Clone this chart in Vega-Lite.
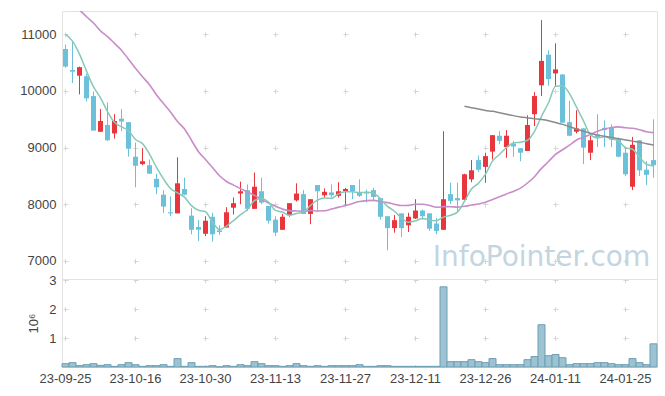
{
  "$schema": "https://vega.github.io/schema/vega-lite/v6.json",
  "padding": {"left": 19, "top": 10, "right": 9, "bottom": 5},
  "config": {
    "font": "Liberation Sans",
    "view": {"stroke": "#e2e2e2"},
    "axis": {"labelFont": "Liberation Sans", "labelFontSize": 13, "labelColor": "#444444", "ticks": false, "domain": false, "gridColor": "#d6d6d6", "titleFont": "Liberation Sans", "titleFontSize": 13, "titleFontWeight": "normal", "titleColor": "#444444"}
  },
  "data": {"values": [
    {"d":"23-09-25","o":10740,"h":10820,"l":10410,"c":10430,"v":115000,"m5":11000,"m20":11650},
    {"d":"23-09-26","o":10370,"h":10880,"l":10140,"c":10340,"v":150000,"m5":10880,"m20":11530},
    {"d":"23-09-27","o":10270,"h":10430,"l":9940,"c":10420,"v":46000,"m5":10650,"m20":11430},
    {"d":"23-10-04","o":10260,"h":10300,"l":9820,"c":9870,"v":80000,"m5":10350,"m20":11310},
    {"d":"23-10-05","o":9910,"h":9990,"l":9300,"c":9300,"v":115000,"m5":10071,"m20":11200},
    {"d":"23-10-06","o":9280,"h":9680,"l":9280,"c":9470,"v":57000,"m5":9879,"m20":11060},
    {"d":"23-10-10","o":9400,"h":9800,"l":9120,"c":9130,"v":80000,"m5":9636,"m20":10960},
    {"d":"23-10-11","o":9250,"h":9590,"l":9160,"c":9470,"v":23000,"m5":9446,"m20":10840},
    {"d":"23-10-12","o":9510,"h":9680,"l":9290,"c":9460,"v":80000,"m5":9365,"m20":10720},
    {"d":"23-10-13","o":9450,"h":9450,"l":8840,"c":8980,"v":150000,"m5":9301,"m20":10560},
    {"d":"23-10-16","o":8840,"h":9090,"l":8300,"c":8680,"v":80000,"m5":9143,"m20":10400},
    {"d":"23-10-17","o":8710,"h":8990,"l":8690,"c":8760,"v":23000,"m5":9071,"m20":10250},
    {"d":"23-10-18","o":8690,"h":8790,"l":8540,"c":8540,"v":46000,"m5":8885,"m20":10110},
    {"d":"23-10-19","o":8450,"h":8540,"l":8180,"c":8300,"v":46000,"m5":8652,"m20":9930},
    {"d":"23-10-20","o":8170,"h":8250,"l":7850,"c":7960,"v":80000,"m5":8448,"m20":9780},
    {"d":"23-10-23","o":7860,"h":8140,"l":7790,"c":7840,"v":23000,"m5":8279,"m20":9630},
    {"d":"23-10-24","o":7840,"h":8830,"l":7840,"c":8370,"v":290000,"m5":8201,"m20":9460},
    {"d":"23-10-25","o":8270,"h":8470,"l":8160,"c":8170,"v":23000,"m5":8126,"m20":9330},
    {"d":"23-10-26","o":7800,"h":7930,"l":7470,"c":7550,"v":150000,"m5":7977,"m20":9130},
    {"d":"23-10-27","o":7600,"h":7720,"l":7350,"c":7550,"v":23000,"m5":7895,"m20":8929},
    {"d":"23-10-30","o":7480,"h":7790,"l":7440,"c":7710,"v":23000,"m5":7868,"m20":8792},
    {"d":"23-10-31","o":7780,"h":7850,"l":7340,"c":7470,"v":46000,"m5":7687,"m20":8649},
    {"d":"23-11-01","o":7540,"h":7630,"l":7460,"c":7510,"v":5000,"m5":7555,"m20":8503},
    {"d":"23-11-02","o":7590,"h":7950,"l":7590,"c":7860,"v":46000,"m5":7617,"m20":8403},
    {"d":"23-11-03","o":7940,"h":8120,"l":7820,"c":8020,"v":23000,"m5":7712,"m20":8339},
    {"d":"23-11-06","o":8190,"h":8400,"l":8000,"c":8230,"v":80000,"m5":7817,"m20":8277},
    {"d":"23-11-07","o":8250,"h":8350,"l":7880,"c":7920,"v":46000,"m5":7907,"m20":8217},
    {"d":"23-11-08","o":7920,"h":8560,"l":7920,"c":8310,"v":184000,"m5":8067,"m20":8158},
    {"d":"23-11-09","o":8230,"h":8470,"l":8000,"c":8030,"v":115000,"m5":8102,"m20":8087},
    {"d":"23-11-10","o":7970,"h":7970,"l":7660,"c":7710,"v":46000,"m5":8038,"m20":8023},
    {"d":"23-11-13","o":7730,"h":7790,"l":7440,"c":7500,"v":46000,"m5":7892,"m20":7964},
    {"d":"23-11-14","o":7550,"h":7830,"l":7550,"c":7780,"v":23000,"m5":7863,"m20":7915},
    {"d":"23-11-15","o":7810,"h":8020,"l":7780,"c":8020,"v":46000,"m5":7806,"m20":7889},
    {"d":"23-11-16","o":8070,"h":8370,"l":8050,"c":8190,"v":115000,"m5":7838,"m20":7883},
    {"d":"23-11-17","o":8180,"h":8250,"l":7830,"c":7830,"v":46000,"m5":7863,"m20":7877},
    {"d":"23-11-20","o":7830,"h":8090,"l":7650,"c":8090,"v":23000,"m5":7981,"m20":7890},
    {"d":"23-11-21","o":8340,"h":8340,"l":7880,"c":8230,"v":46000,"m5":8073,"m20":7883},
    {"d":"23-11-22","o":8160,"h":8280,"l":8120,"c":8220,"v":23000,"m5":8112,"m20":7885},
    {"d":"23-11-23","o":8210,"h":8350,"l":8120,"c":8160,"v":46000,"m5":8106,"m20":7916},
    {"d":"23-11-24","o":8150,"h":8390,"l":8120,"c":8230,"v":46000,"m5":8185,"m20":7950},
    {"d":"23-11-27","o":8230,"h":8290,"l":7990,"c":8270,"v":46000,"m5":8221,"m20":7978},
    {"d":"23-11-28","o":8340,"h":8340,"l":8090,"c":8230,"v":46000,"m5":8221,"m20":8016},
    {"d":"23-11-29","o":8210,"h":8440,"l":8130,"c":8150,"v":80000,"m5":8207,"m20":8048},
    {"d":"23-11-30","o":8220,"h":8260,"l":8030,"c":8190,"v":23000,"m5":8214,"m20":8065},
    {"d":"23-12-01","o":8250,"h":8290,"l":8060,"c":8130,"v":23000,"m5":8194,"m20":8070},
    {"d":"23-12-04","o":8110,"h":8110,"l":7730,"c":7780,"v":46000,"m5":8095,"m20":8047},
    {"d":"23-12-05","o":7790,"h":7790,"l":7190,"c":7580,"v":46000,"m5":7963,"m20":8030},
    {"d":"23-12-06","o":7580,"h":7810,"l":7500,"c":7720,"v":23000,"m5":7878,"m20":8001},
    {"d":"23-12-07","o":7840,"h":7840,"l":7420,"c":7580,"v":23000,"m5":7754,"m20":7978},
    {"d":"23-12-08","o":7630,"h":7850,"l":7510,"c":7780,"v":23000,"m5":7683,"m20":7981},
    {"d":"23-12-11","o":7750,"h":8090,"l":7740,"c":7890,"v":23000,"m5":7707,"m20":8001},
    {"d":"23-12-12","o":7890,"h":7910,"l":7730,"c":7790,"v":23000,"m5":7751,"m20":8002},
    {"d":"23-12-13","o":7840,"h":7840,"l":7530,"c":7570,"v":23000,"m5":7721,"m20":7979},
    {"d":"23-12-14","o":7660,"h":7760,"l":7470,"c":7530,"v":23000,"m5":7712,"m20":7947},
    {"d":"23-12-15","o":7550,"h":9290,"l":7550,"c":8090,"v":2770000,"m5":7774,"m20":7959},
    {"d":"23-12-18","o":8180,"h":8380,"l":8010,"c":8060,"v":184000,"m5":7807,"m20":7958},
    {"d":"23-12-19","o":8110,"h":8380,"l":7880,"c":8070,"v":184000,"m5":7863,"m20":7950},
    {"d":"23-12-20","o":8080,"h":8540,"l":8080,"c":8530,"v":184000,"m5":8054,"m20":7965,"m60":9729},
    {"d":"23-12-21","o":8440,"h":8780,"l":8390,"c":8600,"v":253000,"m5":8269,"m20":7987,"m60":9705},
    {"d":"23-12-22","o":8780,"h":8860,"l":8570,"c":8610,"v":184000,"m5":8373,"m20":8006,"m60":9680},
    {"d":"23-12-26","o":8660,"h":8910,"l":8380,"c":8850,"v":150000,"m5":8532,"m20":8035,"m60":9655},
    {"d":"23-12-27","o":8930,"h":9220,"l":8790,"c":9220,"v":290000,"m5":8763,"m20":8085,"m60":9640},
    {"d":"23-12-28","o":9210,"h":9290,"l":9060,"c":9120,"v":80000,"m5":8880,"m20":8133,"m60":9615},
    {"d":"24-01-02","o":9010,"h":9310,"l":8820,"c":9210,"v":80000,"m5":9002,"m20":8184,"m60":9590},
    {"d":"24-01-03","o":9070,"h":9120,"l":8840,"c":9020,"v":80000,"m5":9083,"m20":8228,"m60":9565},
    {"d":"24-01-04","o":8990,"h":8990,"l":8760,"c":8910,"v":80000,"m5":9095,"m20":8285,"m60":9540},
    {"d":"24-01-05","o":8940,"h":9570,"l":8940,"c":9400,"v":253000,"m5":9130,"m20":8376,"m60":9525},
    {"d":"24-01-08","o":9590,"h":9980,"l":9380,"c":9910,"v":360000,"m5":9289,"m20":8486,"m60":9510},
    {"d":"24-01-09","o":10100,"h":11250,"l":9910,"c":10530,"v":1460000,"m5":9553,"m20":8634,"m60":9495},
    {"d":"24-01-10","o":10640,"h":10720,"l":10090,"c":10210,"v":390000,"m5":9791,"m20":8755,"m60":9475},
    {"d":"24-01-11","o":10310,"h":10840,"l":10090,"c":10380,"v":430000,"m5":10085,"m20":8880,"m60":9445},
    {"d":"24-01-12","o":10290,"h":10300,"l":9440,"c":9440,"v":320000,"m5":10093,"m20":8962,"m60":9410},
    {"d":"24-01-15","o":9450,"h":9830,"l":9200,"c":9210,"v":80000,"m5":9952,"m20":9044,"m60":9370},
    {"d":"24-01-16","o":9280,"h":9660,"l":9250,"c":9340,"v":115000,"m5":9714,"m20":9135,"m60":9330},
    {"d":"24-01-17","o":9340,"h":9340,"l":8710,"c":9000,"v":115000,"m5":9473,"m20":9180,"m60":9290},
    {"d":"24-01-18","o":8910,"h":9210,"l":8780,"c":9130,"v":115000,"m5":9224,"m20":9234,"m60":9255},
    {"d":"24-01-19","o":9230,"h":9590,"l":9010,"c":9180,"v":150000,"m5":9171,"m20":9289,"m60":9225},
    {"d":"24-01-22","o":9350,"h":9480,"l":9010,"c":9310,"v":150000,"m5":9191,"m20":9328,"m60":9200},
    {"d":"24-01-23","o":9350,"h":9410,"l":9010,"c":9140,"v":115000,"m5":9151,"m20":9355,"m60":9178},
    {"d":"24-01-24","o":9150,"h":9180,"l":8830,"c":8840,"v":80000,"m5":9119,"m20":9367,"m60":9155},
    {"d":"24-01-25","o":8910,"h":9000,"l":8500,"c":8530,"v":80000,"m5":8998,"m20":9350,"m60":9135},
    {"d":"24-01-26","o":8310,"h":9190,"l":8250,"c":9050,"v":290000,"m5":8972,"m20":9341,"m60":9115},
    {"d":"24-01-29","o":9130,"h":9130,"l":8500,"c":8600,"v":150000,"m5":8831,"m20":9316,"m60":9095},
    {"d":"24-01-30","o":8610,"h":8760,"l":8340,"c":8520,"v":80000,"m5":8706,"m20":9281,"m60":9070},
    {"d":"24-01-31","o":8780,"h":9500,"l":8470,"c":8690,"v":800000,"m5":8677,"m20":9265,"m60":9046}
  ]},
  "spacing": 0,
  "bounds": "flush",
  "resolve": {"scale": {"y": "independent"}},
  "vconcat": [
    {
      "width": 595,
      "height": 268,
      "encoding": {
        "x": {"field": "d", "type": "ordinal", "scale": {"paddingInner": 0, "paddingOuter": 0},
              "axis": {"title": null, "labels": false, "labelPadding": 0, "minExtent": 0, "maxExtent": 0, "grid": true, "gridDash": [5, 51.67], "gridDashOffset": 35.87,
                       "values": ["23-09-25","23-10-16","23-10-30","23-11-13","23-11-27","23-12-11","23-12-26","24-01-11","24-01-25"]}}
      },
      "layer": [
        {
          "data": {"values": [{"d": "24-01-09", "price": 6910, "label": "InfoPointer.com"}]},
          "mark": {"type": "text", "font": "DejaVu Sans", "fontSize": 28, "color": "#c3d5e0", "align": "center", "baseline": "alphabetic"},
          "encoding": {
            "y": {"field": "price", "type": "quantitative", "title": null},
            "text": {"field": "label"}
          }
        },
        {
          "mark": {"type": "rule", "strokeWidth": 1},
          "encoding": {
            "y": {"field": "l", "type": "quantitative", "title": null,
                  "scale": {"domain": [6682, 11411], "nice": false, "zero": false},
                  "axis": {"values": [7000, 8000, 9000, 10000, 11000], "format": "d", "grid": true, "gridDash": [5, 65], "gridDashOffset": 69, "labelPadding": 6}},
            "y2": {"field": "h"},
            "color": {"condition": {"test": "datum.c >= datum.o", "value": "#e9353c"}, "value": "#6cc1da"}
          }
        },
        {
          "mark": {"type": "bar", "width": 5},
          "encoding": {
            "y": {"field": "o", "type": "quantitative", "title": null},
            "y2": {"field": "c"},
            "color": {"condition": {"test": "datum.c >= datum.o", "value": "#e9353c"}, "value": "#6cc1da"}
          }
        },
        {
          "mark": {"type": "line", "color": "#c98cc9", "strokeWidth": 1.6, "interpolate": "monotone", "clip": true},
          "encoding": {"y": {"field": "m20", "type": "quantitative", "title": null}}
        },
        {
          "mark": {"type": "line", "color": "#86c9b8", "strokeWidth": 1.5, "interpolate": "monotone", "clip": true},
          "encoding": {"y": {"field": "m5", "type": "quantitative", "title": null}}
        },
        {
          "mark": {"type": "line", "color": "#8a8a8a", "strokeWidth": 1.5, "interpolate": "monotone", "clip": true},
          "encoding": {"y": {"field": "m60", "type": "quantitative", "title": null}}
        }
      ]
    },
    {
      "width": 595,
      "height": 88,
      "mark": {"type": "bar", "fill": "#9dc3d3", "stroke": "#6d9eb3", "strokeWidth": 1},
      "encoding": {
        "x": {"field": "d", "type": "ordinal", "scale": {"paddingInner": 0, "paddingOuter": 0},
              "axis": {"title": null, "labelAngle": 0, "labelPadding": 5, "grid": true, "gridDash": [5, 23.95], "gridDashOffset": 1.3,
                       "values": ["23-09-25","23-10-16","23-10-30","23-11-13","23-11-27","23-12-11","23-12-26","24-01-11","24-01-25"]}},
        "y": {"field": "v", "type": "quantitative", "scale": {"domain": [0, 3040000], "nice": false},
              "axis": {"title": "10⁶", "values": [1000000, 2000000, 3000000], "labelExpr": "format(datum.value / 1000000, 'd')", "grid": true, "gridDash": [5, 65], "gridDashOffset": 69, "labelPadding": 6, "titlePadding": 8}}
      }
    }
  ]
}
